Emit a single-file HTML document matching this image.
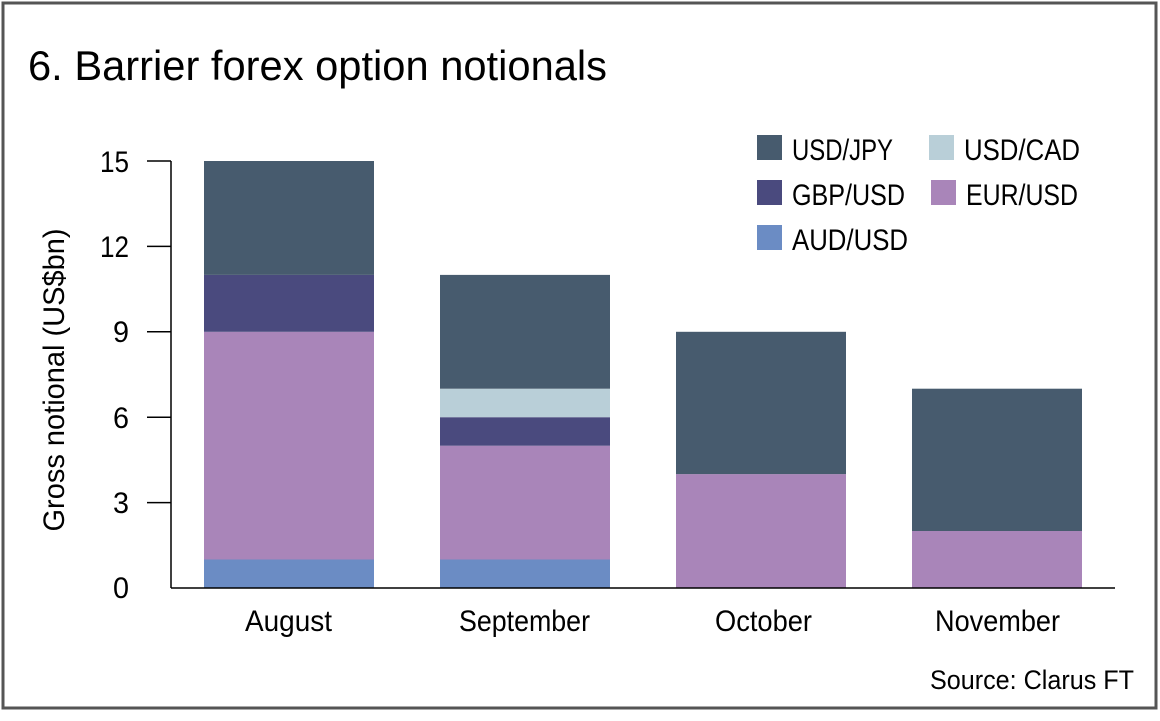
<!DOCTYPE html>
<html><head><meta charset="utf-8"><style>
body{margin:0;width:1160px;height:716px;background:#fff;overflow:hidden}
svg text{font-family:"Liberation Sans Narrow","Liberation Sans",sans-serif;fill:#000}
</style></head><body>
<svg width="1160" height="716" xmlns="http://www.w3.org/2000/svg">
<rect x="3" y="3" width="1153" height="705" fill="#fff" stroke="#555" stroke-width="3"/>
<text x="28" y="80" font-size="42" textLength="579" lengthAdjust="spacingAndGlyphs">6. Barrier forex option notionals</text>
<g font-size="30" text-anchor="end">
<text x="129" y="598" textLength="16" lengthAdjust="spacingAndGlyphs">0</text><text x="129" y="513" textLength="16" lengthAdjust="spacingAndGlyphs">3</text><text x="129" y="428" textLength="16" lengthAdjust="spacingAndGlyphs">6</text>
<text x="129" y="342" textLength="16" lengthAdjust="spacingAndGlyphs">9</text><text x="129" y="257" textLength="29" lengthAdjust="spacingAndGlyphs">12</text><text x="129" y="172" textLength="29" lengthAdjust="spacingAndGlyphs">15</text>
</g>
<g stroke="#000" stroke-width="1.5">
<line x1="171" y1="161" x2="171" y2="588"/>
<line x1="147" y1="161" x2="171" y2="161"/><line x1="147" y1="246.4" x2="171" y2="246.4"/>
<line x1="147" y1="331.8" x2="171" y2="331.8"/><line x1="147" y1="417.2" x2="171" y2="417.2"/>
<line x1="147" y1="502.6" x2="171" y2="502.6"/>
</g>
<text transform="translate(64,380) rotate(-90)" font-size="30" text-anchor="middle" textLength="303" lengthAdjust="spacingAndGlyphs">Gross notional (US$bn)</text>
<rect x="204" y="559.5" width="170" height="28.5" fill="#6b8cc4"/>
<rect x="204" y="331.8" width="170" height="227.7" fill="#a985b9"/>
<rect x="204" y="274.9" width="170" height="56.9" fill="#4a4a7e"/>
<rect x="204" y="161" width="170" height="113.9" fill="#475b6e"/>
<rect x="440" y="559.5" width="170" height="28.5" fill="#6b8cc4"/>
<rect x="440" y="445.7" width="170" height="113.8" fill="#a985b9"/>
<rect x="440" y="417.2" width="170" height="28.5" fill="#4a4a7e"/>
<rect x="440" y="388.7" width="170" height="28.5" fill="#b9cfd8"/>
<rect x="440" y="274.9" width="170" height="113.8" fill="#475b6e"/>
<rect x="676" y="474.1" width="170" height="113.9" fill="#a985b9"/>
<rect x="676" y="331.8" width="170" height="142.3" fill="#475b6e"/>
<rect x="912" y="531" width="170" height="57" fill="#a985b9"/>
<rect x="912" y="388.7" width="170" height="142.3" fill="#475b6e"/>
<line x1="171" y1="588" x2="1115" y2="588" stroke="#000" stroke-width="1.5"/>
<g font-size="30" lengthAdjust="spacingAndGlyphs">
<text x="245" y="631" textLength="87" lengthAdjust="spacingAndGlyphs">August</text>
<text x="459" y="631" textLength="131" lengthAdjust="spacingAndGlyphs">September</text>
<text x="715" y="631" textLength="97" lengthAdjust="spacingAndGlyphs">October</text>
<text x="935" y="631" textLength="125" lengthAdjust="spacingAndGlyphs">November</text>
</g>
<g font-size="30">
<rect x="757" y="135" width="25" height="25" fill="#475b6e"/><text x="792" y="160" textLength="101" lengthAdjust="spacingAndGlyphs">USD/JPY</text>
<rect x="929" y="135" width="25" height="25" fill="#b9cfd8"/><text x="964" y="160" textLength="116" lengthAdjust="spacingAndGlyphs">USD/CAD</text>
<rect x="757" y="180" width="25" height="25" fill="#4a4a7e"/><text x="792" y="205" textLength="113" lengthAdjust="spacingAndGlyphs">GBP/USD</text>
<rect x="931" y="180" width="25" height="25" fill="#a985b9"/><text x="966" y="205" textLength="112" lengthAdjust="spacingAndGlyphs">EUR/USD</text>
<rect x="757" y="225" width="25" height="25" fill="#6b8cc4"/><text x="792" y="250" textLength="116" lengthAdjust="spacingAndGlyphs">AUD/USD</text>
</g>
<text x="930" y="689" font-size="27" textLength="204" lengthAdjust="spacingAndGlyphs">Source: Clarus FT</text>
</svg>
</body></html>
